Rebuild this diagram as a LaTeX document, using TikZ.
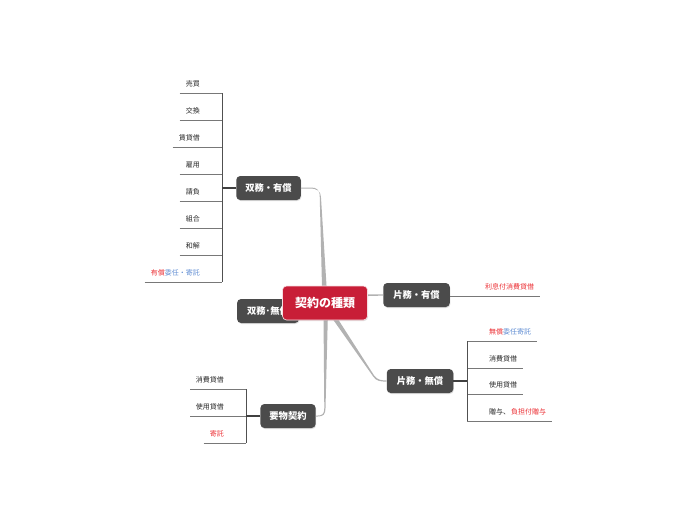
\documentclass[tikz,border=0pt]{standalone}
\usepackage{fontspec}
\setmainfont{Noto Sans CJK JP}
\usetikzlibrary{calc,shadows}
\definecolor{boxgray}{RGB}{75,75,75}
\definecolor{ctrred}{RGB}{200,30,55}
\definecolor{txtred}{RGB}{235,45,50}
\definecolor{txtblue}{RGB}{95,140,210}
\definecolor{conngray}{RGB}{178,178,178}
\definecolor{linegray}{RGB}{120,120,120}
\definecolor{trunkgray}{RGB}{80,80,80}
\tikzset{
  topicbox/.style={fill=boxgray, rounded corners=4pt, text=white, font=\bfseries\fontsize{9.3}{10}\selectfont,
    minimum height=24pt, inner xsep=9pt, inner ysep=0pt,
    drop shadow={opacity=0.25, shadow xshift=0.6pt, shadow yshift=-1pt}},
  centralbox/.style={fill=ctrred, draw=white!85!ctrred, line width=0.6pt, rounded corners=4pt, text=white,
    font=\bfseries\fontsize{12}{13}\selectfont, minimum height=34pt, minimum width=85pt, inner ysep=0pt,
    drop shadow={opacity=0.25, shadow xshift=0.6pt, shadow yshift=-1pt}},
  leaf/.style={font=\fontsize{7}{8}\selectfont, text=black!85, inner xsep=6pt, inner ysep=6pt, text depth=0.8pt, text height=5.6pt},
  uline/.style={draw=linegray, line width=0.6pt},
  trunk/.style={draw=trunkgray, line width=0.8pt},
  joinline/.style={draw=trunkgray!80!black, line width=1.3pt},
  taper/.style={fill=conngray},
}
\begin{document}
\begin{tikzpicture}[x=1pt,y=-1pt]
\useasboundingbox (0,0) rectangle (697,520);

\node[topicbox] (b1) at (268.5,188) {双務・有償};
\node[topicbox, inner xsep=10pt] (b3) at (416.5,295) {片務・有償};
\node[topicbox, inner xsep=10pt] (b4) at (420,381) {片務・無償};
\node[topicbox] (b5) at (288,416) {要物契約};
\coordinate (cc) at (325,303);

% tapered connectors from the centre
\fill[taper] ($(cc)+(-2.6,0)$) -- ($(b1.east)+(18.8,9)$)
  .. controls ($(b1.east)+(18.8,2)$) and ($(b1.east)+(16,-0.5)$) .. ($(b1.east)+(10,-0.5)$)
  -- ($(b1.east)+(0,-0.5)$) -- ($(b1.east)+(0,0.5)$) -- ($(b1.east)+(10,0.5)$)
  .. controls ($(b1.east)+(15,0.5)$) and ($(b1.east)+(20,3)$) .. ($(b1.east)+(20,9)$)
  -- ($(cc)+(2.6,0)$) -- cycle;
\fill[taper] ($(cc)+(-1.6,0)$) -- ($(b5.east)+(8.5,-8)$)
  .. controls ($(b5.east)+(8.5,-2)$) and ($(b5.east)+(6.5,-0.5)$) .. ($(b5.east)+(2,-0.5)$)
  -- ($(b5.east)+(0,-0.5)$) -- ($(b5.east)+(0,0.5)$) -- ($(b5.east)+(2,0.5)$)
  .. controls ($(b5.east)+(7.5,0.5)$) and ($(b5.east)+(9.7,-1.5)$) .. ($(b5.east)+(9.7,-8)$)
  -- ($(cc)+(3.2,0)$) -- cycle;
\fill[taper] ($(cc)+(0,-8.8)$) -- ($(b3.west)+(0,-0.6)$) -- ($(b3.west)+(0,0.6)$) -- ($(cc)+(0,-5.8)$) -- cycle;
\fill[taper] ($(cc)+(1.2,-2.2)$) -- ($(b4.west)+(-12.5,-5.6)$)
  .. controls ($(b4.west)+(-9,-0.8)$) and ($(b4.west)+(-5,-0.6)$) .. ($(b4.west)+(0,-0.6)$)
  -- ($(b4.west)+(0,0.6)$)
  .. controls ($(b4.west)+(-6,0.6)$) and ($(b4.west)+(-10.5,0.3)$) .. ($(b4.west)+(-13.6,-4.8)$)
  -- ($(cc)+(-2.2,2.0)$) -- cycle;

% topic behind central
\node[topicbox, inner xsep=10pt] (b2) at (268,311) {双務･無償};
\fill[taper] ($(cc)+(0,-1)$) -- (b2.east) -- ($(cc)+(0,1)$) -- cycle;

% central topic
\node[centralbox] (ctr) at (cc) {契約の種類};

% ---- leaves of 双務・有償
\coordinate (j1) at (222,188);
\foreach \t/\y/\n in {売買/93/l1,交換/120/l2,賃貸借/147/l3,雇用/174/l4,請負/201/l5,組合/228/l6,和解/255/l7}{
  \node[leaf, anchor=south east] (\n) at (206,\y) {\t};
  \draw[uline] (\n.south west) -- (\n.south -| j1);
}
\node[leaf, anchor=south east] (l8) at (206,282) {\textcolor{txtred}{有償}\textcolor{txtblue}{委任・寄託}};
\draw[uline] (l8.south west) -- (l8.south -| j1);
\draw[trunk] (l1.south -| j1) -- (l8.south -| j1);
\draw[joinline] (b1.west) -- (j1);

% ---- leaf of 片務・有償
\node[leaf, anchor=south west, text=txtred] (r1) at (479,296) {利息付消費貸借};
\draw[uline] (b3.east |- r1.south) -- (r1.south east);

% ---- leaves of 片務・無償
\coordinate (j4) at (467,381);
\node[leaf, anchor=south west] (m1) at (483,341) {\textcolor{txtred}{無償}\textcolor{txtblue}{委任寄託}};
\node[leaf, anchor=south west] (m2) at (483,368) {消費貸借};
\node[leaf, anchor=south west] (m3) at (483,394) {使用貸借};
\node[leaf, anchor=south west] (m4) at (483,421) {贈与、\hspace{1pt}\textcolor{txtred}{負担付贈与}};
\foreach \n in {m1,m2,m3,m4}{
  \draw[uline] (j4 |- \n.south) -- (\n.south east);
}
\draw[trunk] (j4 |- m1.south) -- (j4 |- m4.south);
\draw[joinline] (b4.east) -- (j4);

% ---- leaves of 要物契約
\coordinate (j5) at (246,416);
\node[leaf, anchor=south east] (k1) at (230,389) {消費貸借};
\node[leaf, anchor=south east] (k2) at (230,416) {使用貸借};
\node[leaf, anchor=south east, text=txtred] (k3) at (230,443) {寄託};
\draw[uline] (190,389) -- (k1.south -| j5);
\draw[uline] (190,416) -- (k2.south -| j5);
\draw[uline] (k3.south west) -- (k3.south -| j5);
\draw[trunk] (j5 |- k1.south) -- (j5 |- k3.south);
\draw[joinline] (b5.west) -- (j5);
\end{tikzpicture}
\end{document}
